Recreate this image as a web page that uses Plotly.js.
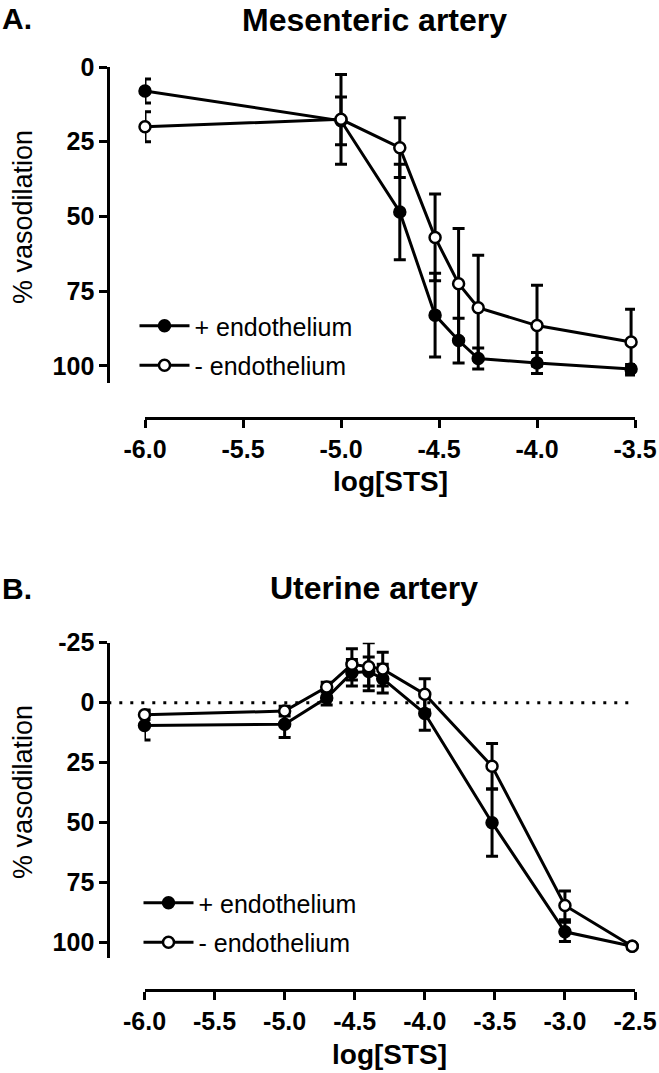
<!DOCTYPE html>
<html>
<head>
<meta charset="utf-8">
<script src="https://cdn.plot.ly/plotly-3.0.1.min.js"></script>
<style>
html,body{margin:0;padding:0;background:#ffffff;}
#chart{width:659px;height:1073px;}
</style>
</head>
<body>
<div id="chart"></div>
<script>
// ---------------- data ----------------
// Panel A: Mesenteric artery
const logSTS_A = [-6, -5, -4.7, -4.52, -4.4, -4.3, -4, -3.52];
const mesPlusEndo = [8, 18, 48.5, 83, 91.5, 97.5, 99, 101];
const mesPlusEndoSEM = [4, 8, 16, 14, 7.5, 3.5, 3.5, 1.5];
const mesMinusEndo = [20, 17.5, 27, 57, 72.5, 80.5, 86.5, 92];
const mesMinusEndoSEM = [5, 15, 10, 14.5, 18.5, 17.5, 13.5, 11];

// Panel B: Uterine artery
const logSTS_B = [-6, -5, -4.7, -4.52, -4.4, -4.3, -4, -3.52, -3, -2.52];
const utPlusEndo = [9.5, 9, -2, -12.5, -13, -10, 4.5, 50, 95.5, 101.5];
const utPlusEndoSEM = [6, 5.5, 3, 5.5, 6, 6, 7, 14, 4, 1];
const utMinusEndo = [5, 3.5, -6.5, -16, -15, -14, -3.5, 26.5, 84.5, 101.5];
const utMinusEndoSEM = [2, 2, 2, 6.5, 10, 7, 6.5, 9.5, 6, 1];

// tick labels
const xTickValsA = [-6, -5.5, -5, -4.5, -4, -3.5];
const xTickTextA = ['-6.0', '-5.5', '-5.0', '-4.5', '-4.0', '-3.5'];
const xTickValsB = [-6, -5.5, -5, -4.5, -4, -3.5, -3, -2.5];
const xTickTextB = ['-6.0', '-5.5', '-5.0', '-4.5', '-4.0', '-3.5', '-3.0', '-2.5'];
const yTickValsA = [0, 25, 50, 75, 100];
const yTickTextA = ['0', '25', '50', '75', '100'];
const yTickValsB = [-25, 0, 25, 50, 75, 100];
const yTickTextB = ['-25', '0', '25', '50', '75', '100'];

const seriesNames = ['+ endothelium', '- endothelium'];
const panelTitles = ['Mesenteric artery', 'Uterine artery'];
const panelLetters = ['A.', 'B.'];
const xTitle = 'log[STS]';
const yTitle = '% vasodilation';

// ---------------- layout helpers ----------------
const W = 659, H = 1073;
const px = p => p / W;
const py = p => 1 - p / H;
const FONT = 'Liberation Sans, Arial, Helvetica, sans-serif';

function series(x, y, e, name, filled, xa, ya, leg, grp) {
  return {
    type: 'scatter', mode: 'lines+markers', x: x, y: y, name: name,
    xaxis: xa, yaxis: ya, legend: leg, legendgroup: grp,
    cliponaxis: false,
    line: {color: '#000', width: 3},
    marker: {symbol: 'circle', size: 11, color: filled ? '#000' : '#fff',
             line: {color: '#000', width: 2.5}},
    error_y: {type: 'data', array: e, visible: true, color: '#000',
              thickness: 3, width: 6}
  };
}

const traces = [
  series(logSTS_A, mesPlusEndo, mesPlusEndoSEM, seriesNames[0], true, 'x', 'y', 'legend', 'a1'),
  series(logSTS_A, mesMinusEndo, mesMinusEndoSEM, seriesNames[1], false, 'x', 'y', 'legend', 'a2'),
  series(logSTS_B, utPlusEndo, utPlusEndoSEM, seriesNames[0], true, 'x2', 'y2', 'legend2', 'b1'),
  series(logSTS_B, utMinusEndo, utMinusEndoSEM, seriesNames[1], false, 'x2', 'y2', 'legend2', 'b2')
];

const tickFont = {family: FONT, size: 25, color: '#000', weight: 700};
const common = {
  showline: true, linecolor: '#000', linewidth: 3,
  ticks: 'outside', ticklen: 8, tickwidth: 3, tickcolor: '#000',
  showgrid: false, zeroline: false, tickmode: 'array',
  tickfont: tickFont, fixedrange: true
};

const xTitleFont = {family: FONT, size: 28, color: '#000', weight: 700};
const yTitleFont = {family: FONT, size: 27, color: '#000'};
const headFont = {family: FONT, size: 32, color: '#000', weight: 700};
const letterFont = {family: FONT, size: 30, color: '#000', weight: 700};

const legendCommon = {
  font: {family: FONT, size: 25, color: '#000'},
  bgcolor: 'rgba(0,0,0,0)', borderwidth: 0,
  xanchor: 'left', yanchor: 'top',
  traceorder: 'grouped', tracegroupgap: 4, itemwidth: 50
};

const yPos = px(108.3);
const xDomA = [px(145), px(635)], xDomB = [px(144.5), px(635)];
const yDomA = [py(383), py(67)], yDomB = [py(958), py(642.7)];

function ann(text, x, y, font, extra) {
  return Object.assign({text: text, xref: 'paper', yref: 'paper', x: x, y: y,
    xanchor: 'center', yanchor: 'middle', showarrow: false, font: font}, extra || {});
}

const layout = {
  width: W, height: H,
  margin: {l: 0, r: 0, t: 0, b: 0},
  paper_bgcolor: '#fff', plot_bgcolor: 'rgba(0,0,0,0)',
  font: {family: FONT, color: '#000'},
  xaxis: Object.assign({}, common, {
    domain: xDomA, range: [-6, -3.5],
    anchor: 'free', position: py(417.7),
    tickvals: xTickValsA, ticktext: xTickTextA
  }),
  yaxis: Object.assign({}, common, {
    domain: yDomA, range: [105.7, 0],
    anchor: 'free', position: yPos,
    tickvals: yTickValsA, ticktext: yTickTextA
  }),
  xaxis2: Object.assign({}, common, {
    domain: xDomB, range: [-6, -2.5],
    anchor: 'free', position: py(990),
    tickvals: xTickValsB, ticktext: xTickTextB
  }),
  yaxis2: Object.assign({}, common, {
    domain: yDomB, range: [106.4, -25],
    anchor: 'free', position: yPos,
    tickvals: yTickValsB, ticktext: yTickTextB
  }),
  legend: Object.assign({}, legendCommon, {x: px(134.5), y: py(303)}),
  legend2: Object.assign({}, legendCommon, {x: px(138.5), y: py(880)}),
  showlegend: true,
  shapes: [{
    type: 'line', xref: 'paper', yref: 'y2',
    x0: yPos, x1: xDomB[1], y0: 0, y1: 0,
    line: {color: '#000', width: 3, dash: '3px,8px'}, layer: 'below'
  }],
  annotations: [
    ann(panelLetters[0], 0, 1, letterFont, {xanchor: 'left', yanchor: 'top'}),
    ann(panelTitles[0], px(374), 1, headFont, {yanchor: 'top'}),
    ann(panelLetters[1], 0, py(588), letterFont, {xanchor: 'left'}),
    ann(panelTitles[1], px(374), py(588), headFont),
    ann(xTitle, (xDomA[0] + xDomA[1]) / 2, py(482), xTitleFont),
    ann(xTitle, (xDomB[0] + xDomB[1]) / 2, py(1054), xTitleFont),
    ann(yTitle, px(23), py(217), yTitleFont, {textangle: -90}),
    ann(yTitle, px(23), py(792), yTitleFont, {textangle: -90})
  ]
};

Plotly.newPlot('chart', traces, layout, {displayModeBar: false, staticPlot: true});
</script>
</body>
</html>
